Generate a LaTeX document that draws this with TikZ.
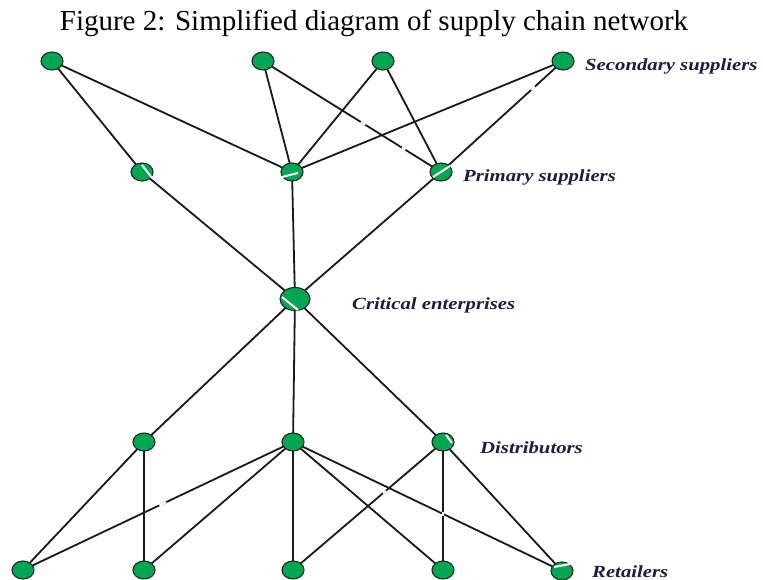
\documentclass[tikz,border=0pt]{standalone}
\usepackage{fontspec}
\setmainfont{Liberation Serif}
\newfontfamily\tierfont[FakeStretch=1.22]{Liberation Serif}
\usetikzlibrary{shapes.geometric,calc}
\definecolor{nodegreen}{RGB}{0,166,81}
\definecolor{labelink}{RGB}{28,28,64}

\begin{document}
\begin{tikzpicture}[x=1pt,y=-1pt,
  site/.style={ellipse, draw=black!85, line width=1.1pt, fill=nodegreen,
    minimum width=22pt, minimum height=18pt, inner sep=0pt},
  hub/.style={site, minimum width=30pt, minimum height=23pt},
  link/.style={line width=1.8pt, black!90},
  tier/.style={anchor=base west, inner sep=0pt, text=labelink,
    font=\tierfont\bfseries\itshape\fontsize{17}{20}\selectfont},
  nick/.style={white, line width=2pt},
  caption/.style={anchor=base, inner sep=0pt,
    font=\fontsize{29}{34}\selectfont}]

\fill[white] (0,0) rectangle (763,580);
\useasboundingbox (0,0) rectangle (763,580);

% title
\node[caption] (title) at (374,31) {Figure 2: Simplified diagram of supply chain network};

% node positions
\coordinate (S1) at (52,61);
\coordinate (S2) at (263,61);
\coordinate (S3) at (383,61);
\coordinate (S4) at (563,61);
\coordinate (P1) at (142,172);
\coordinate (P2) at (292,172);
\coordinate (P3) at (441,172);
\coordinate (C)  at (295,299);
\coordinate (D1) at (144,442);
\coordinate (D2) at (293,442);
\coordinate (D3) at (443,442);
\coordinate (R1) at (23,570);
\coordinate (R2) at (144,570);
\coordinate (R3) at (293,570);
\coordinate (R4) at (443,570);
\coordinate (R5) at (562,571);

% links between tiers
\foreach \a/\b in {S1/P1,S1/P2,S2/P2,S2/P3,S3/P2,S3/P3,S4/P2,S4/P3,
                   P1/C,P2/C,P3/C,
                   C/D1,C/D2,C/D3,
                   D1/R1,D1/R2,D2/R1,D2/R2,D2/R3,D2/R4,D2/R5,
                   D3/R3,D3/R4,D3/R5}
  \draw[link] (\a) -- (\b);

% small breaks in some links
\draw[nick] ($(S4)!0.23!(P3)$) -- ($(S4)!0.26!(P3)$);
\draw[nick] ($(S2)!0.55!(P3)$) -- ($(S2)!0.575!(P3)$);
\draw[nick] ($(S2)!0.78!(P3)$) -- ($(S2)!0.80!(P3)$);
\draw[nick] ($(D2)!0.47!(R1)$) -- ($(D2)!0.495!(R1)$);
\draw[nick] ($(D3)!0.38!(R3)$) -- ($(D3)!0.40!(R3)$);
\draw[nick] ($(D3)!0.55!(R4)$) -- ($(D3)!0.58!(R4)$);

% members of the chain
\foreach \n in {S1,S2,S3,S4,P1,P2,P3,D1,D2,D3,R1,R2,R3,R4,R5}
  \node[site] (n\n) at (\n) {};
\node[hub] (nC) at (C) {};

% white streaks across some members
\draw[nick] (142,165) -- (152,178);
\draw[nick] (282,177) -- (298,173);
\draw[nick] (433,177) -- (450,166);
\draw[nick] (282,297) -- (298,310);
\draw[nick] (446,435) -- (452,443);
\draw[nick] (554,567) -- (575,563);

% tier labels
\node[tier] (lS) at (585,71)  {Secondary suppliers};
\node[tier] (lP) at (463,182) {Primary suppliers};
\node[tier] (lC) at (352,309) {Critical enterprises};
\node[tier] (lD) at (480,453) {Distributors};
\node[tier] (lR) at (592,577) {Retailers};
\end{tikzpicture}
\end{document}
